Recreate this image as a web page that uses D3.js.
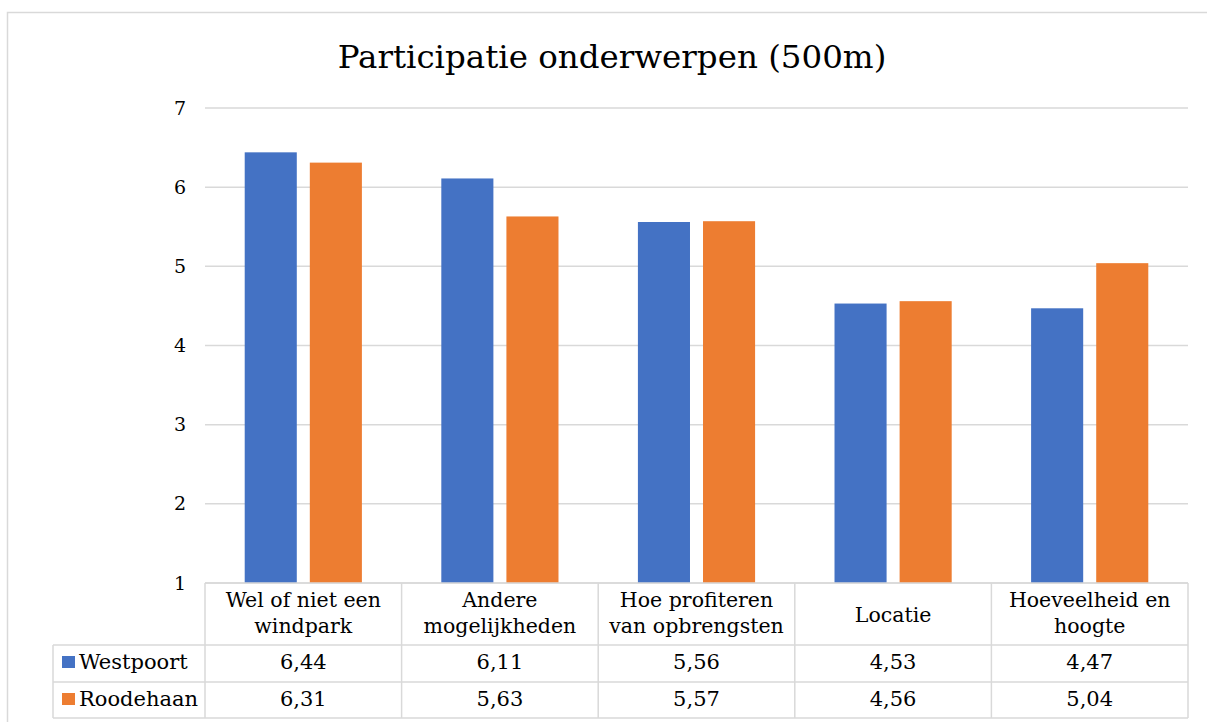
<!DOCTYPE html>
<html>
<head>
<meta charset="utf-8">
<script src="https://cdn.jsdelivr.net/npm/d3@7"></script>
<style>
  body { margin: 0; background: #fff; }
  svg { display: block; font-family: Georgia, "DejaVu Serif", serif; }
</style>
</head>
<body>
<script>
const width = 1207;
const height = 722;

const title = "Participatie onderwerpen (500m)";
const categories = [
  ["Wel of niet een", "windpark"],
  ["Andere", "mogelijkheden"],
  ["Hoe profiteren", "van opbrengsten"],
  ["Locatie"],
  ["Hoeveelheid en", "hoogte"]
];
const seriesNames = ["Westpoort", "Roodehaan"];
const westpoort = [6.44, 6.11, 5.56, 4.53, 4.47];
const roodehaan = [6.31, 5.63, 5.57, 4.56, 5.04];
const yTicks = [1, 2, 3, 4, 5, 6, 7];

const colors = ["#4472C4", "#ED7D31"];
const gridColor = "#D9D9D9";

const series = [westpoort, roodehaan];
const nl = d3.formatLocale({decimal: ",", thousands: ".", grouping: [3], currency: ["€", ""]});
const fmt = nl.format(".2f");

// plot area
const plotLeft = 205, plotRight = 1188, plotTop = 108, plotBottom = 583;
const rowH = [62, 37, 36];   // header row, series rows
const legendLeft = 53;

const svg = d3.select("body").append("svg")
  .attr("width", width)
  .attr("height", height);

// chart frame
svg.append("rect")
  .attr("x", 7.5).attr("y", 12.5)
  .attr("width", width).attr("height", height)
  .attr("fill", "none")
  .attr("stroke", gridColor)
  .attr("stroke-width", 1.5);

svg.append("text")
  .attr("x", 612).attr("y", 68)
  .attr("text-anchor", "middle")
  .attr("font-size", 32.5)
  .attr("fill", "#000")
  .text(title);

const y = d3.scaleLinear().domain([1, 7]).range([plotBottom, plotTop]);

const x0 = d3.scaleBand()
  .domain(d3.range(categories.length))
  .range([plotLeft, plotRight]);

const x1 = d3.scaleBand()
  .domain(d3.range(series.length))
  .range([0, x0.bandwidth()])
  .paddingInner(0.2)
  .paddingOuter(0.61);

// gridlines
svg.append("g")
  .selectAll("line")
  .data(yTicks)
  .join("line")
  .attr("x1", plotLeft).attr("x2", plotRight)
  .attr("y1", d => y(d)).attr("y2", d => y(d))
  .attr("stroke", gridColor)
  .attr("stroke-width", 1.5);

svg.append("g")
  .selectAll("text")
  .data(yTicks)
  .join("text")
  .attr("x", 186)
  .attr("y", d => y(d))
  .attr("dy", "0.35em")
  .attr("text-anchor", "end")
  .attr("font-size", 19)
  .text(d => d);

// bars
svg.append("g")
  .selectAll("g")
  .data(series)
  .join("g")
  .attr("fill", (d, i) => colors[i])
  .each(function(vals, si) {
    d3.select(this).selectAll("rect")
      .data(vals)
      .join("rect")
      .attr("x", (d, ci) => x0(ci) + x1(si))
      .attr("y", d => y(d))
      .attr("width", x1.bandwidth())
      .attr("height", d => y(1) - y(d));
  });

// data table
const r0 = plotBottom, r1 = r0 + rowH[0], r2 = r1 + rowH[1], r3 = r2 + rowH[2];
const table = svg.append("g")
  .attr("stroke", gridColor)
  .attr("stroke-width", 1.5)
  .attr("fill", "none");

table.append("line").attr("x1", plotLeft).attr("x2", plotRight).attr("y1", r0).attr("y2", r0);
[r1, r2, r3].forEach(r => {
  table.append("line").attr("x1", legendLeft).attr("x2", plotRight).attr("y1", r).attr("y2", r);
});
x0.domain().concat([categories.length]).forEach(i => {
  const xx = i < categories.length ? x0(i) : plotRight;
  table.append("line").attr("x1", xx).attr("x2", xx).attr("y1", r0).attr("y2", r3);
});
table.append("line").attr("x1", legendLeft).attr("x2", legendLeft).attr("y1", r1).attr("y2", r3);

const cx = i => x0(i) + x0.bandwidth() / 2;

// category labels
svg.append("g")
  .selectAll("text")
  .data(categories)
  .join("text")
  .attr("text-anchor", "middle")
  .attr("font-size", 20.5)
  .attr("x", (d, i) => cx(i))
  .attr("y", d => d.length === 1 ? 622 : 607)
  .selectAll("tspan")
  .data(d => d)
  .join("tspan")
  .attr("x", function() { return this.parentNode.getAttribute("x"); })
  .attr("dy", (d, i) => i === 0 ? 0 : 26)
  .text(d => d);

// series rows
const rowBase = [669, 706];
series.forEach((vals, si) => {
  const g = svg.append("g");
  g.append("rect")
    .attr("x", 62).attr("y", rowBase[si] - 13)
    .attr("width", 13).attr("height", 12)
    .attr("fill", colors[si]);
  g.append("text")
    .attr("x", 79).attr("y", rowBase[si])
    .attr("font-size", 21)
    .text(seriesNames[si]);
  g.selectAll("text.v")
    .data(vals)
    .join("text")
    .attr("class", "v")
    .attr("x", (d, i) => cx(i))
    .attr("y", rowBase[si])
    .attr("text-anchor", "middle")
    .attr("font-size", 21)
    .text(d => fmt(d));
});
</script>
</body>
</html>
